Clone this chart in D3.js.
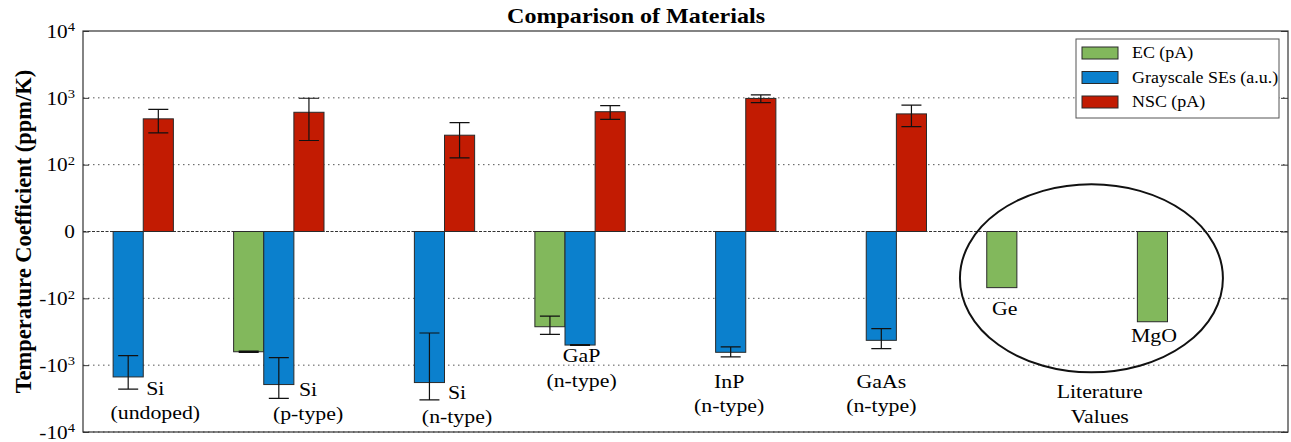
<!DOCTYPE html>
<html>
<head>
<meta charset="utf-8">
<script src="https://cdn.jsdelivr.net/npm/d3@7/dist/d3.min.js"></script>
<style>
  html, body { margin: 0; padding: 0; background: #fff; }
  svg { display: block; }
  text { font-family: "Liberation Serif", "Times New Roman", serif; fill: #000; }
</style>
</head>
<body>
<svg id="chart" width="1291" height="442"></svg>
<script>
// ---- data -------------------------------------------------------------
const groups = ["Si (undoped)", "Si (p-type)", "Si (n-type)", "GaP (n-type)",
                "InP (n-type)", "GaAs (n-type)", "Ge", "MgO"];

// temperature coefficients in ppm/K (null = not measured)
const ecValues    = [null, -630, null, -266, null, null, -84, -224];
const ecErrors    = [null,   15, null,   81, null, null, null, null];
const grayValues  = [-1500, -1950, -1820, -500, -642, -425, null, null];
const grayErrors  = [  780,  1180,  1490,    8,  108,  142, null, null];
const nscValues   = [485, 608, 276, 620, 980, 575, null, null];
const nscErrors   = [187, 378, 150, 143, 130, 205, null, null];

const seriesNames = ["EC (pA)", "Grayscale SEs (a.u.)", "NSC (pA)"];
const tickValues  = [-1e4, -1e3, -1e2, 0, 1e2, 1e3, 1e4];
const tickLabels  = [["-10", "4"], ["-10", "3"], ["-10", "2"], ["0", ""],
                     ["10", "2"], ["10", "3"], ["10", "4"]];

// annotation text under / beside the bars
const labelLines = [["Si", "(undoped)"], ["Si", "(p-type)"], ["Si", "(n-type)"],
                    ["GaP", "(n-type)"], ["InP", "(n-type)"], ["GaAs", "(n-type)"],
                    ["Ge"], ["MgO"], ["Literature", "Values"]];

// ---- layout -------------------------------------------------------------
const W = 1291, H = 442;
const M = { left: 83, right: 3, top: 31, bottom: 10 };
const SX = 1.12;              // horizontal text stretch
const colors = ["#82b85c", "#0b80cd", "#c21b02"];
const barW = 0.2;             // bar width in group units

// symmetric log transform, linear inside +-100
const LT = 100;
function tf(v) {
  const a = Math.abs(v);
  const t = a <= LT ? a / LT : 1 + Math.log10(a / LT);
  return v < 0 ? -t : t;
}

const svg = d3.select("#chart");
const x = d3.scaleLinear().domain([0, groups.length]).range([M.left, W - M.right]);
const yT = d3.scaleLinear().domain([-3, 3]).range([H - M.bottom, M.top]);
const y = v => yT(tf(v));

// label placement: centre (group units) and baselines (px)
const labelLayout = [
  { u: 0.48, b: [395, 419] }, { u: 1.494, b: [396, 420] }, { u: 2.483, b: [399, 423] },
  { u: 3.31, b: [362, 387] }, { u: 4.29, b: [388, 412] }, { u: 5.30, b: [388, 412] },
  { u: 6.12, b: [315] }, { u: 7.11, b: [342] }, { u: 6.75, b: [398, 423] }
];

function stext(parent, px, py, str, size, anchor, weight) {
  return parent.append("text")
    .attr("transform", `translate(${px},${py}) scale(${SX},1)`)
    .attr("text-anchor", anchor || "middle")
    .style("font-size", size + "px")
    .style("font-weight", weight || "normal")
    .text(str);
}

// ---- grid -------------------------------------------------------------
const grid = svg.append("g");
tickValues.forEach(v => {
  if (v === 1e4) return;
  grid.append("line")
    .attr("x1", M.left).attr("x2", W - M.right)
    .attr("y1", y(v)).attr("y2", y(v))
    .attr("stroke", v === 0 ? "#333" : "#555")
    .attr("stroke-width", v === 0 ? 1.2 : 1)
    .attr("stroke-dasharray", v === 0 ? "3,1.5" : "1.5,3.5");
});

// ---- bars ---------------------------------------------------------------
const series = [
  { vals: ecValues, errs: ecErrors },
  { vals: grayValues, errs: grayErrors },
  { vals: nscValues, errs: nscErrors }
];
const barsG = svg.append("g");
const errG = svg.append("g");
series.forEach((s, k) => {
  const rows = s.vals.map((v, i) => ({ i, v, e: s.errs[i] })).filter(d => d.v !== null);
  barsG.selectAll(null).data(rows).enter().append("rect")
    .attr("x", d => x(d.i + k * barW))
    .attr("width", x(barW) - x(0))
    .attr("y", d => Math.min(y(d.v), y(0)))
    .attr("height", d => Math.abs(y(d.v) - y(0)))
    .attr("fill", colors[k])
    .attr("stroke", "#2a2a2a")
    .attr("stroke-width", 1);

  const eb = rows.filter(d => d.e !== null);
  const cx = d => x(d.i + k * barW + barW / 2);
  const cap = 10;
  errG.selectAll(null).data(eb).enter().append("path")
    .attr("d", d => {
      const y1 = y(d.v - d.e), y2 = y(d.v + d.e), c = cx(d);
      return `M${c},${y1}V${y2}M${c - cap},${y1}H${c + cap}M${c - cap},${y2}H${c + cap}`;
    })
    .attr("fill", "none").attr("stroke", "#111").attr("stroke-width", 1.2);
});

// ---- axes & frame -------------------------------------------------------
const axL = svg.append("g").attr("transform", `translate(${M.left},0)`)
  .call(d3.axisLeft(yT).tickValues(tickValues.map(tf)).tickSize(-6).tickPadding(0).tickFormat(""));
axL.select(".domain").remove();
axL.selectAll(".tick line").attr("stroke", "#333");
axL.selectAll(".tick").each(function (d, i) {
  const t = d3.select(this).append("text")
    .attr("transform", `scale(${SX},1)`)
    .attr("x", -8 / SX).attr("dy", "0.33em")
    .attr("text-anchor", "end")
    .style("font-size", "19px");
  t.append("tspan").text(tickLabels[i][0]);
  if (tickLabels[i][1]) {
    t.append("tspan").attr("dy", "-0.5em").style("font-size", "13px").text(tickLabels[i][1]);
  }
});
axL.selectAll(".tick text").filter(function () { return !this.getAttribute("transform"); }).remove();

const axR = svg.append("g").attr("transform", `translate(${W - M.right},0)`)
  .call(d3.axisRight(yT).tickValues(tickValues.map(tf)).tickSize(-7).tickFormat(""));
axR.select(".domain").remove();
axR.selectAll(".tick line").attr("stroke", "#333");

svg.append("rect")
  .attr("x", M.left).attr("y", M.top)
  .attr("width", W - M.right - M.left).attr("height", H - M.bottom - M.top)
  .attr("fill", "none").attr("stroke", "#333").attr("stroke-width", 1.2);

// ---- annotations --------------------------------------------------------
const ann = svg.append("g");
labelLines.forEach((lines, i) => {
  const L = labelLayout[i];
  lines.forEach((ln, j) => stext(ann, x(L.u), L.b[j], ln, 19.5));
});

// ring around the literature values
svg.append("ellipse")
  .attr("cx", x(6.695)).attr("cy", y(-70))
  .attr("rx", x(0.873) - x(0)).attr("ry", yT(0) - yT(1.407))
  .attr("fill", "none").attr("stroke", "#111").attr("stroke-width", 2);

// ---- title & axis label -------------------------------------------------
stext(svg, 636, 23, "Comparison of Materials", 21.5, "middle", "bold");
svg.append("text")
  .attr("transform", `translate(31,${(M.top + H - M.bottom) / 2}) rotate(-90)`)
  .attr("text-anchor", "middle")
  .style("font-size", "22.5px").style("font-weight", "bold")
  .text("Temperature Coefficient (ppm/K)");

// ---- legend -------------------------------------------------------------
const lg = svg.append("g").attr("transform", "translate(1076,39)");
lg.append("rect").attr("width", 203).attr("height", 79)
  .attr("fill", "#fff").attr("stroke", "#555").attr("stroke-width", 1);
seriesNames.forEach((name, k) => {
  const yy = 8 + k * 24.5;
  lg.append("rect").attr("x", 6).attr("y", yy).attr("width", 36).attr("height", 12)
    .attr("fill", colors[k]).attr("stroke", "#2a2a2a").attr("stroke-width", 1);
  stext(lg, 56, yy + 11, name, 16, "start");
});
</script>
</body>
</html>
